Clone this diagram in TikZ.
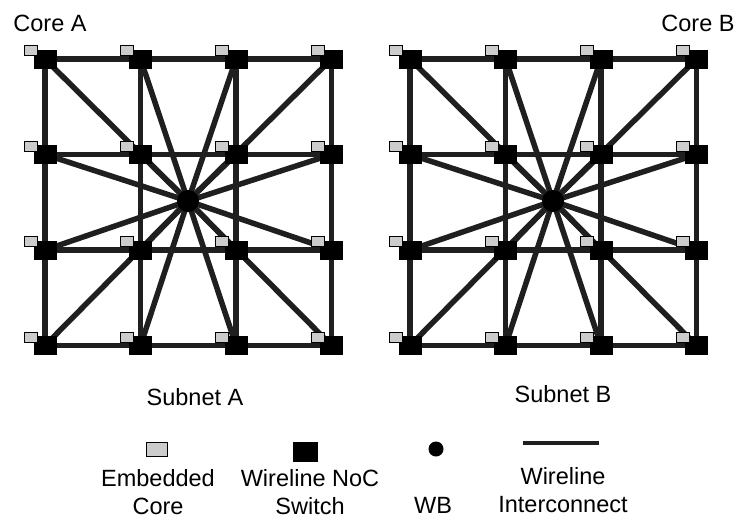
\documentclass[tikz,border=0pt]{standalone}
\usepackage{fontspec}
\setmainfont{Liberation Sans}
\pgfdeclarelayer{wires}
\pgfsetlayers{wires,main}
\begin{document}
\begin{tikzpicture}[x=1pt,y=-1pt,
  wire/.style={line width=5.5pt, draw=black!88},
  switchbox/.style={rectangle, fill=black, minimum width=23pt, minimum height=19pt, inner sep=0pt},
  corebox/.style={rectangle, draw=black, fill=black!20, line width=0.9pt, minimum width=13pt, minimum height=10pt, inner sep=0pt},
  hubdot/.style={circle, fill=black, minimum size=22pt, inner sep=0pt},
  lbl/.style={font=\fontsize{23.5}{28}\selectfont, align=center, inner sep=0pt}]
\useasboundingbox (0,0) rectangle (738,520);
\begin{pgfonlayer}{wires}
  \fill[white] (0,0) rectangle (738,520);
\end{pgfonlayer}

% two 4x4 subnets, each with a wireless hub in the middle
\foreach \nm/\ox/\hx in {A/45/188, B/410/553} {
  \node[hubdot] (h\nm) at (\hx,201) {};
  \foreach \i in {0,...,3} {
    \foreach \j in {0,...,3} {
      \node[switchbox] (s\nm\i\j) at (\ox+95.5*\i, 59+95.5*\j) {};
      \node[corebox] (c\nm\i\j) at ([xshift=-14pt,yshift=8.5pt]s\nm\i\j.center) {};
    }
  }
  \begin{pgfonlayer}{wires}
    % mesh links
    \foreach \i in {0,...,3} {
      \foreach \j/\k in {0/1,1/2,2/3} {
        \draw[wire] (s\nm\i\j.center) -- (s\nm\i\k.center);
        \draw[wire] (s\nm\j\i.center) -- (s\nm\k\i.center);
      }
    }
    % links from every switch to the hub
    \foreach \i in {0,...,3} {
      \foreach \j in {0,...,3} {
        \draw[wire] (h\nm.center) -- (s\nm\i\j.center);
      }
    }
  \end{pgfonlayer}
}

% labels
\node[lbl] (coreA) at (50,23) {Core A};
\node[lbl] (coreB) at (698,23) {Core B};
\node[lbl] (subA) at (195,397) {Subnet A};
\node[lbl] (subB) at (563,394) {Subnet B};

% legend
\node[corebox, minimum width=21pt, minimum height=14pt] (lgcore) at (157,449) {};
\node[switchbox, minimum width=25pt, minimum height=20pt] (lgswitch) at (305,452) {};
\node[hubdot, minimum size=15pt] (lghub) at (436,449) {};
\coordinate (lgw1) at (523,443);
\coordinate (lgw2) at (599,443);
\draw[wire, line width=4pt] (lgw1) -- (lgw2);

\node[lbl] (tcore) at (158,492) {Embedded\\Core};
\node[lbl] (tswitch) at (310,492) {Wireline NoC\\Switch};
\node[lbl] (thub) at (433,505) {WB};
\node[lbl] (twire) at (563,490) {Wireline\\Interconnect};
\end{tikzpicture}
\end{document}
